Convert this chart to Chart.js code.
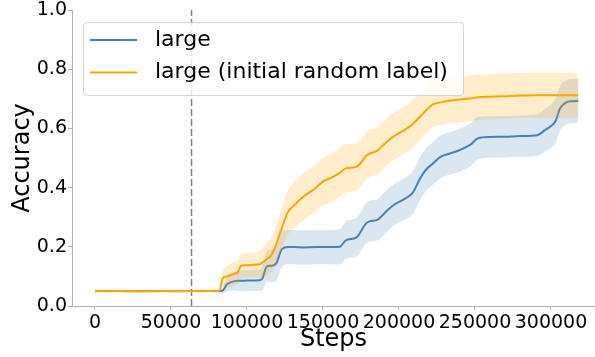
<!DOCTYPE html>
<html>
<head>
<meta charset="utf-8">
<script src="https://cdn.jsdelivr.net/npm/chart.js@4"></script>
<style>
  html, body { margin: 0; padding: 0; background: #fff; }
  #wrap { width: 595px; height: 357px; }
</style>
</head>
<body>
<div id="wrap"><canvas id="acc" width="595" height="357"></canvas></div>
<script>
// training steps where the curves were sampled
const steps = [0, 10000, 20000, 30000, 40000, 50000, 60000, 70000, 80000,
  82000, 84000, 87000, 92000, 94000, 96000,
  100000, 108000, 110000, 113000, 116000, 119000,
  123000, 127000, 131000, 137000, 145000, 150000,
  155000, 161000, 165000, 172000, 179000, 186000,
  192000, 197000, 204000, 209000, 214000, 218000,
  222000, 227000, 234000, 240000, 247000, 252000,
  260000, 270000, 280000, 291000, 296000, 300000,
  303000, 306000, 310000, 314000, 318000];

// "large"
const largeMean = [0.050, 0.051, 0.050, 0.050, 0.051, 0.050, 0.050, 0.051, 0.050,
  0.050, 0.052, 0.074, 0.084, 0.085, 0.085,
  0.086, 0.087, 0.092, 0.133, 0.136, 0.142,
  0.192, 0.199, 0.199, 0.198, 0.199, 0.199,
  0.199, 0.200, 0.222, 0.232, 0.282, 0.292,
  0.322, 0.343, 0.363, 0.382, 0.432, 0.462,
  0.480, 0.503, 0.516, 0.527, 0.545, 0.567,
  0.571, 0.572, 0.574, 0.577, 0.594, 0.608,
  0.625, 0.668, 0.688, 0.692, 0.693];
const largeStd = [0.003, 0.003, 0.003, 0.003, 0.003, 0.003, 0.003, 0.003, 0.003,
  0.003, 0.010, 0.025, 0.032, 0.034, 0.035,
  0.035, 0.036, 0.040, 0.050, 0.055, 0.058,
  0.059, 0.058, 0.058, 0.058, 0.058, 0.058,
  0.058, 0.060, 0.063, 0.065, 0.068, 0.070,
  0.070, 0.070, 0.070, 0.072, 0.072, 0.072,
  0.072, 0.072, 0.072, 0.072, 0.072, 0.072,
  0.070, 0.070, 0.070, 0.070, 0.072, 0.073,
  0.075, 0.075, 0.075, 0.075, 0.075];

// "large (initial random label)"
const randMean = [0.051, 0.050, 0.051, 0.050, 0.050, 0.051, 0.051, 0.050, 0.051,
  0.053, 0.094, 0.100, 0.110, 0.114, 0.135,
  0.138, 0.141, 0.146, 0.158, 0.172, 0.205,
  0.265, 0.318, 0.340, 0.369, 0.398, 0.420,
  0.432, 0.450, 0.465, 0.470, 0.510, 0.526,
  0.555, 0.575, 0.596, 0.615, 0.640, 0.662,
  0.680, 0.688, 0.694, 0.698, 0.701, 0.705,
  0.707, 0.709, 0.711, 0.712, 0.712, 0.712,
  0.712, 0.712, 0.712, 0.712, 0.712];
const randStd = [0.003, 0.003, 0.003, 0.003, 0.003, 0.003, 0.003, 0.003, 0.003,
  0.004, 0.025, 0.035, 0.040, 0.040, 0.040,
  0.042, 0.045, 0.050, 0.055, 0.060, 0.065,
  0.070, 0.075, 0.078, 0.080, 0.080, 0.080,
  0.082, 0.082, 0.082, 0.080, 0.080, 0.080,
  0.080, 0.080, 0.080, 0.080, 0.078, 0.078,
  0.077, 0.077, 0.077, 0.077, 0.077, 0.077,
  0.077, 0.077, 0.076, 0.076, 0.076, 0.076,
  0.076, 0.076, 0.076, 0.076, 0.076];

const seriesNames = ['large', 'large (initial random label)'];
const xTicks = [0, 50000, 100000, 150000, 200000, 250000, 300000];
const yTicks = [0, 0.2, 0.4, 0.6, 0.8, 1.0];
const splitStep = 63500;

const BLUE = '#4682b4';
const ORANGE = '#ffa500';
const AXIS = '#b0b0b0';
const FONT = "'DejaVu Sans', sans-serif";

const pts = (ys) => steps.map((s, i) => ({ x: s, y: ys[i] }));
const band = (m, sd, sign) => steps.map((s, i) => ({ x: s, y: m[i] + sign * sd[i] }));

const lineDs = (label, ys, color) => ({
  label, data: pts(ys), borderColor: color, borderWidth: 2,
  pointRadius: 0, fill: false, cubicInterpolationMode: 'monotone'
});
const bandDs = (data, fill, bg) => ({
  label: '', data, borderColor: 'transparent', borderWidth: 0,
  pointRadius: 0, fill, backgroundColor: bg, cubicInterpolationMode: 'monotone'
});

// legend with a rounded frame, drawn inside the plot like matplotlib
const frameLegend = {
  id: 'frameLegend',
  afterDraw(chart) {
    const { ctx, chartArea } = chart;
    const x0 = chartArea.left + 11, y0 = chartArea.top + 12;
    const w = 380, h = 73;
    ctx.save();
    ctx.beginPath();
    ctx.roundRect(x0 + 0.5, y0 + 0.5, w, h, 4);
    ctx.fillStyle = 'rgba(255,255,255,0.8)';
    ctx.fill();
    ctx.strokeStyle = 'rgba(204,204,204,0.8)';
    ctx.lineWidth = 1;
    ctx.stroke();
    const entries = [[seriesNames[0], BLUE], [seriesNames[1], ORANGE]];
    entries.forEach(([txt, col], i) => {
      const yy = y0 + 18 + i * 32.5;
      ctx.beginPath();
      ctx.moveTo(x0 + 7, yy);
      ctx.lineTo(x0 + 54, yy);
      ctx.strokeStyle = col;
      ctx.lineWidth = 2;
      ctx.stroke();
      ctx.fillStyle = '#000';
      ctx.font = '22px ' + FONT;
      ctx.textBaseline = 'middle';
      ctx.fillText(txt, x0 + 72, yy);
    });
    ctx.restore();
  }
};

new Chart(document.getElementById('acc'), {
  type: 'line',
  data: {
    datasets: [
      lineDs(seriesNames[1], randMean, ORANGE),
      bandDs(band(randMean, randStd, 1), '+1', 'rgba(255,165,0,0.2)'),
      bandDs(band(randMean, randStd, -1), false, 'transparent'),
      lineDs(seriesNames[0], largeMean, BLUE),
      bandDs(band(largeMean, largeStd, 1), '+1', 'rgba(70,130,180,0.2)'),
      bandDs(band(largeMean, largeStd, -1), false, 'transparent'),
      {
        label: 'split', data: [{ x: splitStep, y: 0 }, { x: splitStep, y: 1 }],
        borderColor: '#808080', borderWidth: 1.5, borderDash: [7, 3],
        pointRadius: 0, fill: false
      }
    ]
  },
  options: {
    responsive: false,
    animation: false,
    devicePixelRatio: 1,
    layout: { padding: { top: 10, left: 0, right: 0, bottom: 0 } },
    plugins: {
      legend: { display: false },
      tooltip: { enabled: false }
    },
    scales: {
      x: {
        type: 'linear',
        min: -15130,
        max: 328950,
        afterBuildTicks: (s) => { s.ticks = xTicks.map(v => ({ value: v })); },
        afterFit: (s) => { s.height = 51; s.paddingLeft = 0; s.paddingRight = 0; },
        ticks: {
          autoSkip: false, maxRotation: 0, minRotation: 0, padding: 2,
          color: '#000', font: { family: FONT, size: 19 },
          callback: (v) => String(v)
        },
        grid: { drawOnChartArea: false, drawTicks: true, tickLength: 4, color: AXIS },
        border: { display: true, color: AXIS, width: 1 },
        title: {
          display: true, text: 'Steps', color: '#000',
          font: { family: FONT, size: 24 }, padding: { top: 0, bottom: 3 }
        }
      },
      y: {
        min: 0,
        max: 1,
        afterBuildTicks: (s) => { s.ticks = yTicks.map(v => ({ value: v })); },
        afterFit: (s) => { s.width = 72; s.paddingTop = 0; s.paddingBottom = 0; },
        ticks: {
          padding: 1, color: '#000', font: { family: FONT, size: 19 },
          callback: (v) => Number(v).toFixed(1)
        },
        grid: { drawOnChartArea: false, drawTicks: true, tickLength: 4, color: AXIS },
        border: { display: true, color: AXIS, width: 1 },
        title: {
          display: true, text: 'Accuracy', color: '#000',
          font: { family: FONT, size: 24 }, padding: { top: 8, bottom: 0 }
        }
      }
    }
  },
  plugins: [frameLegend]
});
</script>
</body>
</html>
